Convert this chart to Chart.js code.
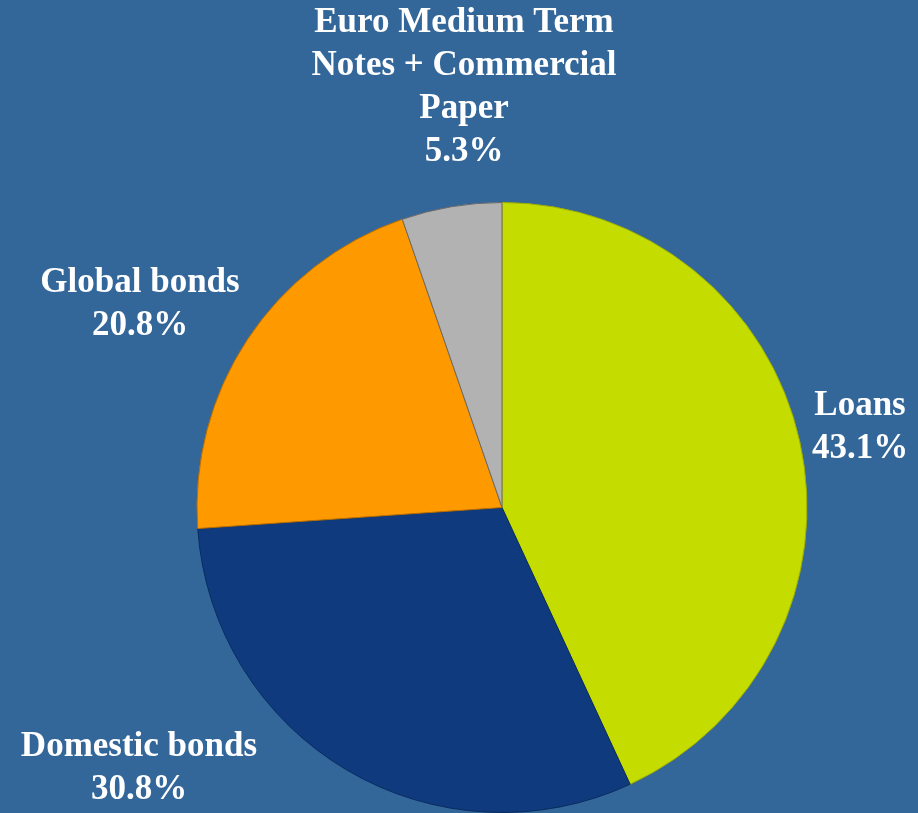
<!DOCTYPE html>
<html>
<head>
<meta charset="utf-8">
<script src="https://cdn.jsdelivr.net/npm/chart.js@4"></script>
<style>
  html, body { margin: 0; padding: 0; background: #336699; }
  #wrap { width: 918px; height: 813px; }
</style>
</head>
<body>
<div id="wrap"><canvas id="fundingChart" width="918" height="813"></canvas></div>
<script>
// Funding mix by instrument (share of total, %)
const categories = ['Loans', 'Domestic bonds', 'Global bonds', 'Euro Medium Term Notes + Commercial Paper'];
const shares = [43.1, 30.8, 20.8, 5.3];
const sliceColors = ['#c4dc00', '#0f3a7d', '#ff9900', '#b2b2b2'];
const edgeColors = ['#9cae00', '#0a2c60', '#b86e00', '#6a6a6a'];

// label text lines per slice, drawn by the plugin below
const labelLines = [
  ['Loans', '43.1%'],
  ['Domestic bonds', '30.8%'],
  ['Global bonds', '20.8%'],
  ['Euro Medium Term', 'Notes + Commercial', 'Paper', '5.3%']
];

// where each label block sits (center x, first line y)
const labelAnchors = [
  { x: 860, y: 406 },
  { x: 139, y: 747 },
  { x: 140, y: 283 },
  { x: 464, y: 23 }
];

const sliceLabels = {
  id: 'sliceLabels',
  afterDraw(chart) {
    const ctx = chart.ctx;
    ctx.save();
    ctx.fillStyle = '#ffffff';
    ctx.font = 'bold 35px "Liberation Serif", "Times New Roman", serif';
    ctx.textAlign = 'center';
    ctx.textBaseline = 'middle';
    labelLines.forEach((lines, i) => {
      const a = labelAnchors[i];
      lines.forEach((t, j) => ctx.fillText(t, a.x, a.y + j * 43));
    });
    ctx.restore();
  }
};

const ctx = document.getElementById('fundingChart').getContext('2d');
new Chart(ctx, {
  type: 'pie',
  data: {
    labels: categories,
    datasets: [{
      data: shares,
      backgroundColor: sliceColors,
      borderColor: edgeColors,
      borderWidth: 1
    }]
  },
  options: {
    responsive: false,
    devicePixelRatio: 1,
    animation: false,
    layout: { padding: { left: 195, right: 109, top: 202, bottom: -3 } },
    plugins: {
      legend: { display: false },
      tooltip: { enabled: false }
    }
  },
  plugins: [sliceLabels]
});
</script>
</body>
</html>
